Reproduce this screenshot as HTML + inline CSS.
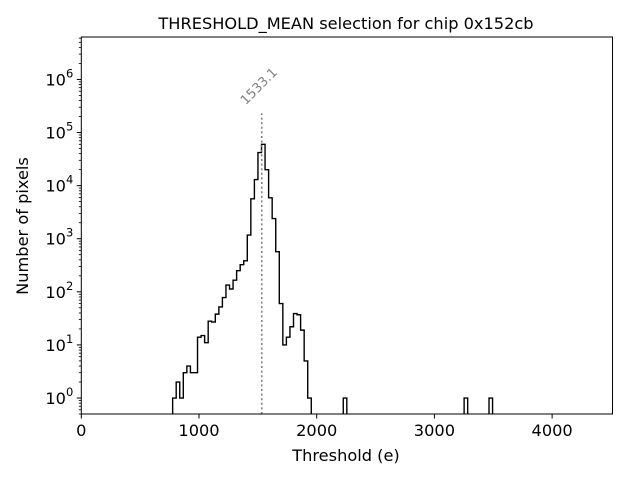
<!DOCTYPE html>
<html><head><meta charset="utf-8"><style>
body{margin:0;background:#fff}
svg text{font-family:"DejaVu Sans","Liberation Sans",sans-serif}
</style></head><body>
<svg width="640" height="480" viewBox="0 0 640 480" id="chart">
<rect width="640" height="480" fill="#fff"/>
<text x="346" y="29" font-size="16.2" text-anchor="middle">THRESHOLD_MEAN selection for chip 0x152cb</text>
<text x="346" y="461" font-size="16.2" text-anchor="middle">Threshold (e)</text>
<text transform="translate(28,226) rotate(-90)" font-size="16.2" text-anchor="middle">Number of pixels</text>
<g id="plot"></g>
</svg>
<script>
const binStart = 776;
const binWidth = 30.2;
const binIndices = [0,1,2,3,4,5,6,7,8,9,10,11,12,13,14,15,16,17,18,19,20,21,22,23,24,25,26,27,28,29,30,31,32,33,34,35,36,37,38,48,82,89];
const binCounts = [1,2,1,3,4,3,3,14,15,11,28,27,38,52,78,134,113,166,250,324,384,1170,5640,13000,42000,60000,20000,5900,2400,570,60,10,14,22,39,37,19,5,1,1,1,1];
const xTicks = [0,1000,2000,3000,4000];
const yTickExps = [0,1,2,3,4,5,6];
const selectionValue = 1533.1;
const selectionTop = 230000;

const L=81.3,R=612.5,T=37,B=414;
const xMin=0,xMax=4513,yMinLog=Math.log10(0.5),yMaxLog=Math.log10(6.3e6);
const xs=v=>L+(v-xMin)/(xMax-xMin)*(R-L);
const ys=v=>B-(Math.log10(v)-yMinLog)/(yMaxLog-yMinLog)*(B-T);
const NS="http://www.w3.org/2000/svg";
const g=document.getElementById('plot');
function mk(t,a,p){const e=document.createElementNS(NS,t);for(const k in a)e.setAttribute(k,a[k]);(p||g).appendChild(e);return e;}

const maxIdx=Math.max(...binIndices);
const counts=new Array(maxIdx+1).fill(0);
binIndices.forEach((b,i)=>counts[b]=binCounts[i]);
const bot=B+5;
let d=`M${xs(binStart)},${bot}`;
counts.forEach((c,i)=>{const y=c>0?ys(c):bot;d+=`L${xs(binStart+i*binWidth)},${y}L${xs(binStart+(i+1)*binWidth)},${y}`;});
d+=`L${xs(binStart+(maxIdx+1)*binWidth)},${bot}`;
const clip=mk('clipPath',{id:'cp'});mk('rect',{x:L,y:T,width:R-L,height:B-T},clip);
const hist=mk('path',{d:d,fill:'none',stroke:'#000','stroke-width':1.4,'clip-path':'url(#cp)'});



const sx=xs(selectionValue);
const sl=mk('line',{x1:sx,x2:sx,y1:B,y2:ys(selectionTop),stroke:'#808080','stroke-width':1.6,'stroke-dasharray':'2,2.6'});


const st=mk('text',{transform:`translate(${sx-16},${ys(selectionTop)-8}) rotate(-45)`,'font-size':13,fill:'#808080'});
st.textContent=selectionValue.toFixed(1);



const fr=mk('rect',{x:L,y:T,width:R-L,height:B-T,fill:'none',stroke:'#000','stroke-width':1});



xTicks.forEach(v=>{
  const x=xs(v);
  mk('line',{x1:x,x2:x,y1:B,y2:B+4.5,stroke:'#000'});
  const t=mk('text',{x:x,y:B+22,'font-size':16.2,'text-anchor':'middle'});
  t.textContent=v;
  
  
});
for(let e=-1;e<=6;e++){
  for(let m=2;m<=9;m++){const v=m*Math.pow(10,e);const y=ys(v);if(y<T||y>B)continue;mk('line',{x1:L-2.5,x2:L,y1:y,y2:y,stroke:'#000','stroke-width':0.8});}
}
yTickExps.forEach(e=>{
  const y=ys(Math.pow(10,e));
  mk('line',{x1:L-4.5,x2:L,y1:y,y2:y,stroke:'#000'});
  const t=mk('text',{x:L-8,y:y+6,'font-size':16.2,'text-anchor':'end'});
  t.innerHTML=`10<tspan dy="-8" font-size="11.5">${e}</tspan>`;
  
  
});
</script>
</body></html>
